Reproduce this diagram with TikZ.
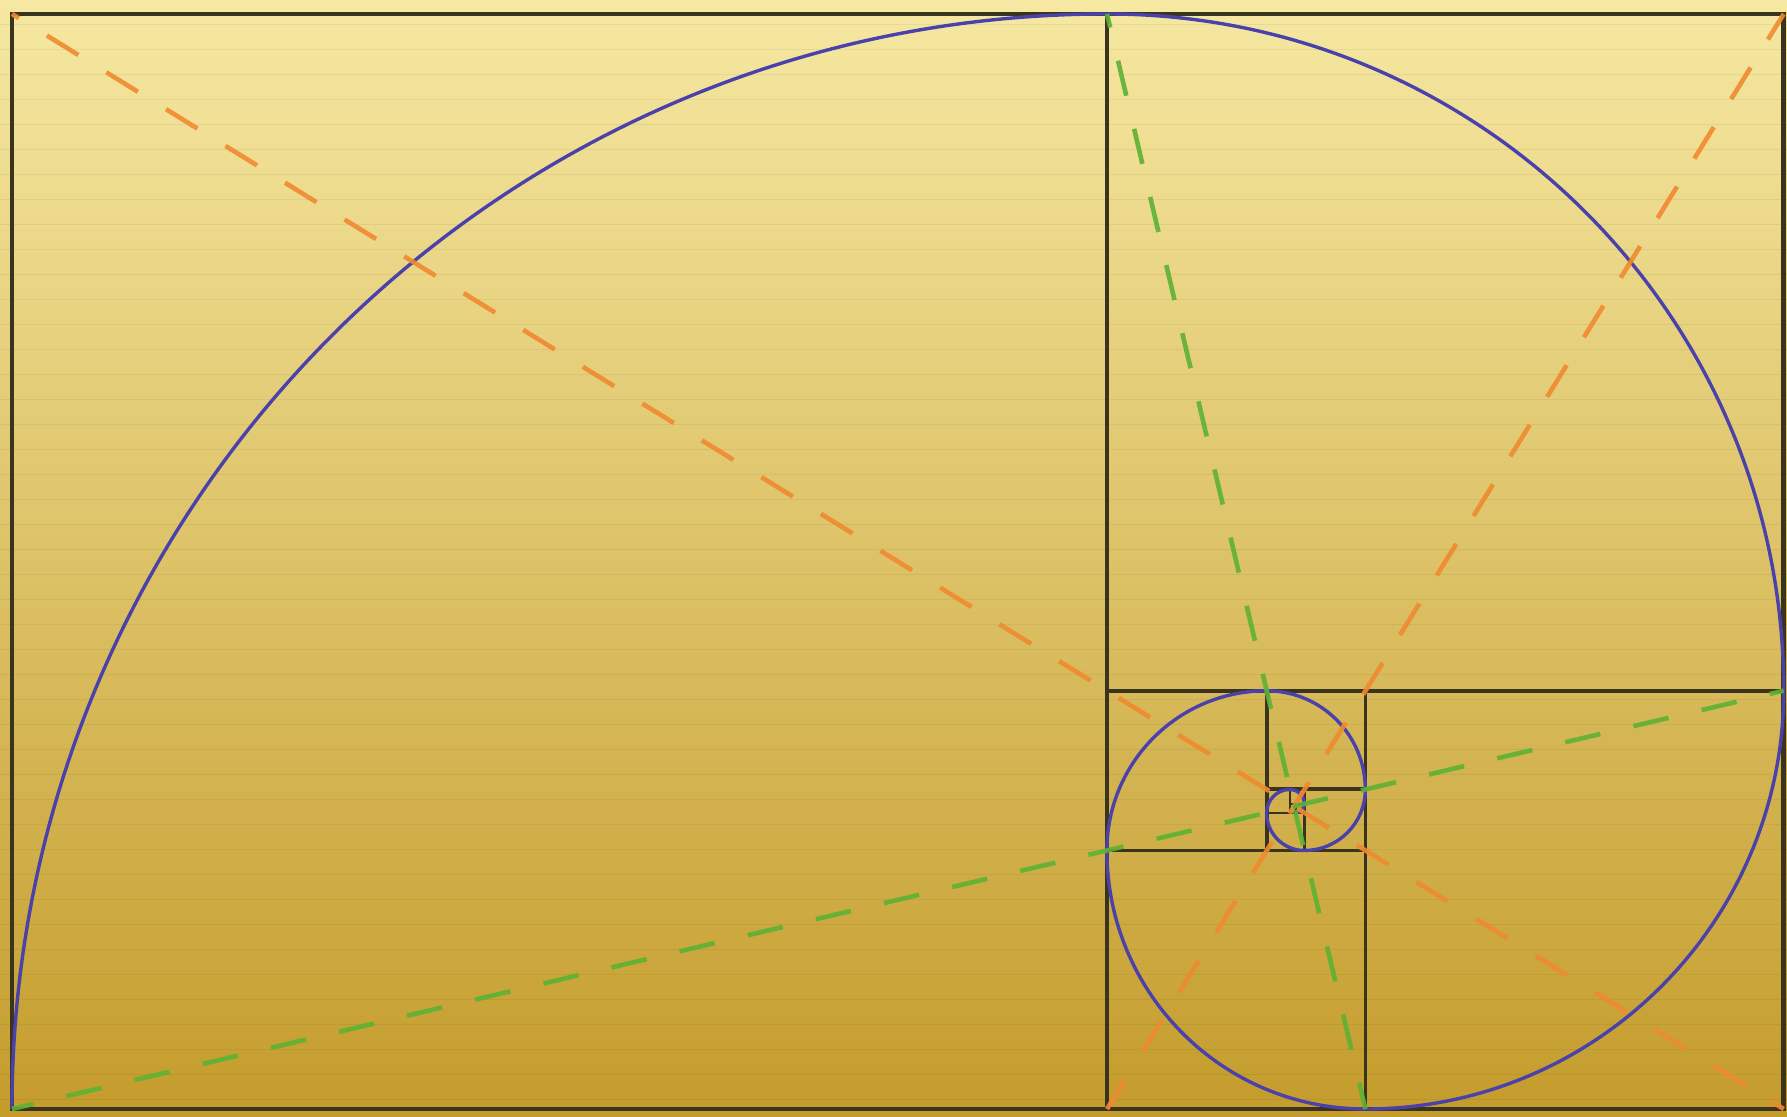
\documentclass[tikz,border=0pt]{standalone}
\definecolor{bgtop}{RGB}{246,232,162}
\definecolor{bgmid}{RGB}{224,192,98}
\definecolor{bgbot}{RGB}{196,156,44}
\definecolor{framecol}{RGB}{58,52,30}
\definecolor{spiralcol}{RGB}{74,66,170}
\definecolor{orangedash}{RGB}{240,138,48}
\definecolor{greendash}{RGB}{92,178,52}
\tikzset{
  gridline/.style={draw=framecol, line width=1.9pt},
  thingrid/.style={draw=framecol, line width=1.1pt},
  outerframe/.style={draw=framecol, line width=2.4pt},
  spiralline/.style={draw=spiralcol, line width=1.7pt},
  odash/.style={draw=orangedash, line width=2.3pt, opacity=0.9},
  gdash/.style={draw=greendash, line width=2.3pt, opacity=0.9},
  ruled/.style={draw=black, opacity=0.05, line width=0.5pt}
}
\begin{document}
\begin{tikzpicture}[x=0.5pt,y=0.5pt]
\shade[top color=bgtop, middle color=bgmid, bottom color=bgbot] (0,0) rectangle (1787,1117);
\useasboundingbox (0,0) rectangle (1787,1117);
\foreach \k in {1,...,44} \draw[ruled] (0,{1117-25*\k}) -- (1787,{1117-25*\k});
% corners
\coordinate (TL) at (12,1103);
\coordinate (TR) at (1783.7,1103);
\coordinate (BL) at (12,8);
\coordinate (BR) at (1783.7,8);
\coordinate (T1) at (1107,1103);
\coordinate (B1) at (1107,8);
\coordinate (B2) at (1365.4,8);
\coordinate (R1) at (1783.7,426.3);
% squares
\draw[gridline] (1107,426.3) rectangle (1783.7,1103);
\draw[gridline] (1365.4,8) rectangle (1783.7,426.3);
\draw[gridline] (1107,8) rectangle (1365.4,266.5);
\draw[gridline] (1107,266.5) rectangle (1266.7,426.3);
\draw[gridline] (1266.7,327.6) rectangle (1365.4,426.3);
\draw[gridline] (1304.4,266.5) rectangle (1365.4,327.6);
\draw[thingrid] (1266.7,266.5) rectangle (1304.4,304.2);
\draw[thingrid] (1266.7,304.2) rectangle (1290,327.6);
\draw[thingrid] (1290,313.2) rectangle (1304.4,327.6);
\draw[thingrid] (1295.5,304.3) rectangle (1304.4,313.2);
\draw[outerframe] (BL) rectangle (TR);
\draw[gridline] (B1) -- (T1);
% spiral
\draw[spiralline] (BL)
  arc[start angle=180,end angle=90,radius=1095]
  arc[start angle=90,end angle=0,radius=676.7]
  arc[start angle=0,end angle=-90,radius=418.3]
  arc[start angle=-90,end angle=-180,radius=258.5]
  arc[start angle=180,end angle=90,radius=159.7]
  arc[start angle=90,end angle=0,radius=98.7]
  arc[start angle=0,end angle=-90,radius=61.0]
  arc[start angle=-90,end angle=-180,radius=37.7]
  arc[start angle=180,end angle=90,radius=23.3]
  arc[start angle=90,end angle=0,radius=14.4]
  arc[start angle=0,end angle=-90,radius=8.9];
% diagonals
\draw[odash, dash pattern=on 18.5pt off 16.5pt, dash phase=14.5pt] (TL) -- (BR);
\draw[odash, dash pattern=on 18.5pt off 16.5pt, dash phase=3.5pt] (TR) -- (B1);
\draw[gdash, dash pattern=on 18pt off 17pt, dash phase=7pt] (BL) -- (R1);
\draw[gdash, dash pattern=on 18pt off 17pt, dash phase=11pt] (T1) -- (B2);
\end{tikzpicture}
\end{document}
